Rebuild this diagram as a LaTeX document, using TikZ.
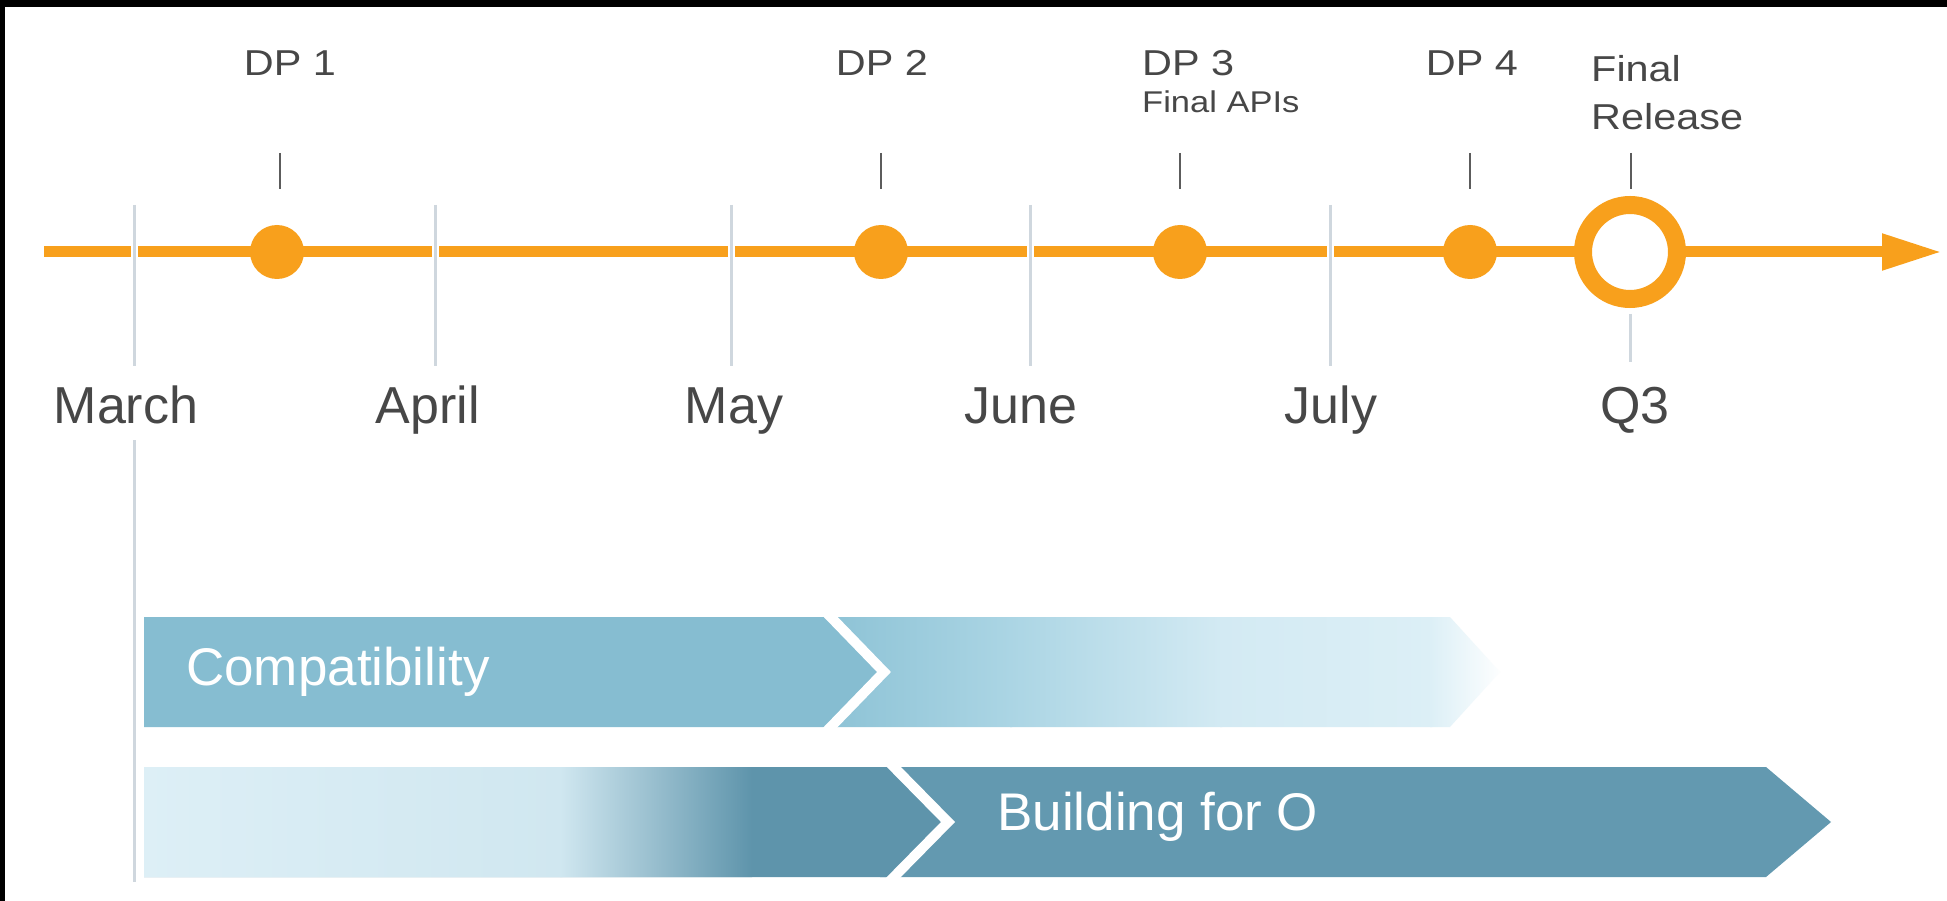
\documentclass[tikz,border=0pt]{standalone}
\usepackage{fontspec}
\setmainfont{Liberation Sans}
\newfontfamily\stretchedfont[FakeStretch=1.15]{Liberation Sans}
\usetikzlibrary{arrows.meta}

\definecolor{tlorange}{HTML}{F8A01C}
\definecolor{gridline}{HTML}{CFD7DE}
\definecolor{tickgray}{HTML}{5C5C5C}
\definecolor{textgray}{HTML}{474747}
\definecolor{compatbase}{HTML}{86BDD1}
\definecolor{compatnext}{HTML}{8CC2D5}
\definecolor{compatsoft}{HTML}{ABD5E4}
\definecolor{compatpale}{HTML}{D3EAF3}
\definecolor{compatfade}{HTML}{DCEFF6}
\definecolor{buildpale}{HTML}{DDEFF6}
\definecolor{buildlight}{HTML}{D0E7F0}
\definecolor{builddark}{HTML}{5E94AB}
\definecolor{buildnext}{HTML}{6399B0}

\begin{document}
\begin{tikzpicture}[x=1pt,y=-1pt,
  timeline/.style={draw=tlorange,line width=11pt},
  gridrule/.style={draw=gridline,line width=3pt},
  gapcut/.style={draw=white,line width=7pt},
  tickrule/.style={draw=tickgray,line width=2pt},
  milestone/.style={circle,fill=tlorange,minimum size=54pt,inner sep=0pt},
  release/.style={circle,draw=tlorange,line width=18pt,fill=white,minimum size=94pt,inner sep=0pt},
  dplabel/.style={text=textgray,font=\stretchedfont\fontsize{36}{40}\selectfont,inner sep=0pt},
  sublabel/.style={text=textgray,font=\stretchedfont\fontsize{30}{34}\selectfont,inner sep=0pt},
  monthlabel/.style={text=textgray,font=\fontsize{52}{60}\selectfont,inner sep=0pt,anchor=base},
  barlabel/.style={text=white,font=\fontsize{53}{60}\selectfont,inner sep=0pt,anchor=base west},
  chevron/.style={draw=white,line width=10pt,miter limit=10},
]
\useasboundingbox (0,0) rectangle (1947,901);
\fill[white] (0,0) rectangle (1947,901);
\fill[black] (0,0) rectangle (1947,7);
\fill[black] (0,0) rectangle (5,901);

% ---- timeline axis ----
\coordinate (tstart) at (44,252);
\coordinate (tend) at (1942,252);
\draw[timeline,-{Triangle[length=60pt,width=34pt]}] (tstart) -- (tend);

% ---- month rules (they cut the axis) ----
\foreach \name/\x in {march/134, april/435, may/731, june/1030, july/1330}{
  \coordinate (\name cutA) at (\x,244);
  \coordinate (\name cutB) at (\x,260);
  \coordinate (\name top) at (\x,205);
  \coordinate (\name bot) at (\x,366);
  \draw[gapcut] (\name cutA) -- (\name cutB);
  \draw[gridrule] (\name top) -- (\name bot);
}
% March rule continues down past the bars
\coordinate (marchlow) at (134,440);
\coordinate (marchend) at (134,882);
\draw[gridrule] (marchlow) -- (marchend);

% ---- milestones ----
\node[milestone] (m1) at (277,252) {};
\node[milestone] (m2) at (881,252) {};
\node[milestone] (m3) at (1180,252) {};
\node[milestone] (m4) at (1470,252) {};
\node[release] (rel) at (1630,252) {};

% ticks above milestones
\foreach \m/\x in {m1/280, m2/881, m3/1180, m4/1470, rel/1631}{
  \coordinate (\m tickA) at (\x,153);
  \coordinate (\m tickB) at (\x,189);
  \draw[tickrule] (\m tickA) -- (\m tickB);
}
% rule under the release ring
\coordinate (qtop) at (1630,314);
\coordinate (qbot) at (1630,362);
\draw[gridrule] (qtop) -- (qbot);

% ---- milestone labels ----
\node[dplabel,anchor=base] (dp1) at (290,76) {DP 1};
\node[dplabel,anchor=base] (dp2) at (882,76) {DP 2};
\node[dplabel,anchor=base west] (dp3) at (1142,76) {DP 3};
\node[sublabel,anchor=base west] (apis) at (1142,113) {Final APIs};
\node[dplabel,anchor=base] (dp4) at (1472,76) {DP 4};
\node[dplabel,anchor=base west] (fin) at (1591,82) {Final};
\node[dplabel,anchor=base west] (relname) at (1591,130) {Release};

% ---- month labels ----
\node[monthlabel] (lmarch) at (126,423) {March};
\node[monthlabel] (lapril) at (428,423) {April};
\node[monthlabel] (lmay) at (734,423) {May};
\node[monthlabel] (ljune) at (1021,423) {June};
\node[monthlabel] (ljuly) at (1331,423) {July};
\node[monthlabel] (lq3) at (1635,423) {Q3};

% ---- Compatibility bar ----
\begin{scope}
  \clip (826,617) -- (1450,617) -- (1500,672) -- (1450,727) -- (826,727) -- (884,672) -- cycle;
  \shade[left color=compatnext, right color=compatsoft] (820,600) rectangle (1012,740);
  \shade[left color=compatsoft, right color=compatpale] (1010,600) rectangle (1222,740);
  \shade[left color=compatpale, right color=compatfade] (1220,600) rectangle (1432,740);
  \shade[left color=compatfade, right color=white] (1430,600) rectangle (1505,740);
\end{scope}
\fill[compatbase] (144,617) -- (826,617) -- (884,672) -- (826,727) -- (144,727) -- cycle;
\coordinate (cA) at (822,608);
\coordinate (cB) at (884,672);
\coordinate (cC) at (822,736);
\draw[chevron] (cA) -- (cB) -- (cC);
\node[barlabel] (compat) at (186,685) {Compatibility};

% ---- Building for O bar ----
\begin{scope}
  \clip (144,767) -- (1766,767) -- (1831,822) -- (1766,877) -- (144,877) -- cycle;
  \fill[buildnext] (880,750) rectangle (1840,890);
  \fill[builddark] (140,750) -- (889,750) -- (889,767) -- (948,822) -- (889,877) -- (889,890) -- (140,890) -- cycle;
  \shade[left color=buildpale, right color=buildlight] (140,750) rectangle (562,890);
  \shade[left color=buildlight, right color=builddark] (560,750) rectangle (752,890);
\end{scope}
\coordinate (dA) at (885,758);
\coordinate (dB) at (948,822);
\coordinate (dC) at (885,886);
\draw[chevron] (dA) -- (dB) -- (dC);
\node[barlabel] (build) at (997,830) {Building for O};
\end{tikzpicture}
\end{document}
